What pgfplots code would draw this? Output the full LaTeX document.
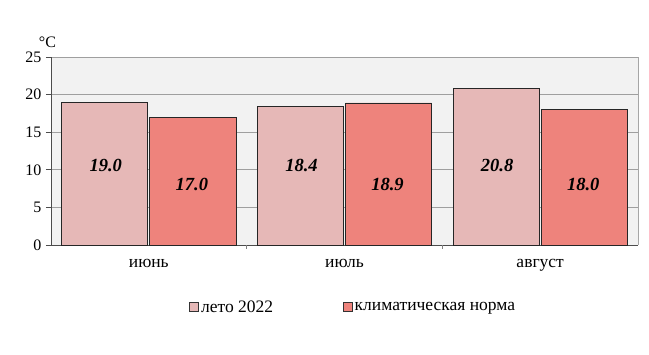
\documentclass[border=0pt]{standalone}
\usepackage{pgfplots}
\pgfplotsset{compat=1.18}
\usepackage{fontspec}
\setmainfont{Liberation Serif}
\definecolor{cA}{HTML}{E6B8B7}
\definecolor{cB}{HTML}{EE837C}
\definecolor{bgc}{HTML}{F2F2F2}
\begin{document}
\begin{tikzpicture}
\useasboundingbox (-51pt,-110pt) rectangle (598pt,245pt);
\begin{axis}[
  at={(0,0)}, anchor=south west,
  scale only axis, width=587pt, height=188pt,
  xmin=-0.5, xmax=2.5, ymin=0, ymax=25,
  ybar=0pt, bar width=0.44,
  bar shift auto,
  axis background/.style={fill=bgc},
  axis x line*=bottom, axis y line*=left,
  separate axis lines,
  x axis line style={draw=black!70, line width=0.8pt},
  y axis line style={draw=black!70, line width=0.8pt},
  ytick={0,5,...,25},
  ymajorgrids, grid style={draw=gray!75, line width=0.6pt},
  y tick style={draw=black!70, line width=0.6pt},
  tick align=outside, major tick length=5pt,
  xtick={0,1,2}, xticklabels={июнь,июль,август},
  x tick style={draw=none},
  extra x ticks={0.5,1.5}, extra x tick labels={},
  extra x tick style={x tick style={draw=gray, line width=0.6pt}, grid=none, major tick length=4pt},
  yticklabel style={font=\fontsize{16}{18}\selectfont, xshift=-1pt},
  xticklabel style={font=\fontsize{17.5}{19}\selectfont, yshift=-6pt},
  /pgf/number format/assume math mode=true,
  legend style={draw=none, fill=none, at={(0.515,-0.33)}, anchor=center,
    font=\fontsize{17.5}{19}\selectfont, legend columns=2,
    /tikz/every even column/.append style={column sep=68pt}},
  legend image code/.code={\draw[#1, draw=black!80, line width=0.6pt] (0pt,-4.5pt) rectangle (9pt,4.5pt);},
  legend cell align=left,
  clip=false,
]
\draw[gray!70, line width=0.6pt] (rel axis cs:1,0) -- (rel axis cs:1,1);
\addplot[fill=cA, draw=black!85, line width=0.7pt] coordinates {(0,19.0) (1,18.4) (2,20.8)};
\addplot[fill=cB, draw=black!85, line width=0.7pt] coordinates {(0,17.0) (1,18.9) (2,18.0)};
\legend{лето 2022, климатическая норма}
\tikzset{vl/.style={font=\fontsize{18.5}{20}\selectfont\bfseries\itshape}}
\node[vl] at (axis cs:-0.22,10.6) {19.0};
\node[vl] at (axis cs:0.22,8.0) {17.0};
\node[vl] at (axis cs:0.78,10.6) {18.4};
\node[vl] at (axis cs:1.22,8.0) {18.9};
\node[vl] at (axis cs:1.78,10.6) {20.8};
\node[vl] at (axis cs:2.22,8.0) {18.0};
\node[font=\fontsize{16}{18}\selectfont] at (rel axis cs:-0.006,1.08) {°C};
\end{axis}
\end{tikzpicture}
\end{document}
